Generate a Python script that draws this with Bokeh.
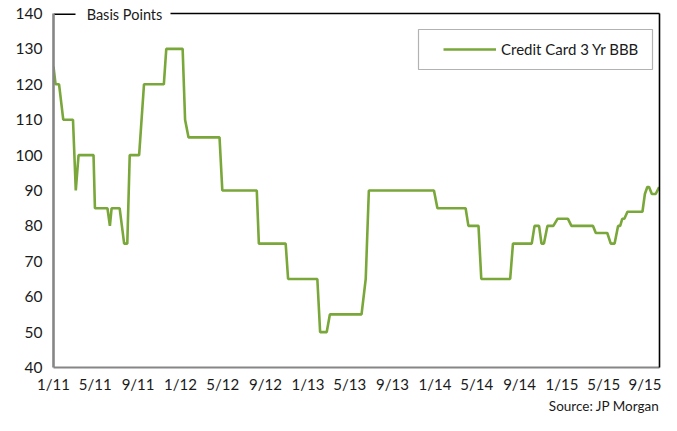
import pandas as pd
from bokeh.plotting import figure
from bokeh.models import (Range1d, FixedTicker, LinearAxis, BoxAnnotation, Title)
from bokeh.embed import file_html
from bokeh.resources import INLINE

# ---- data ----
dates = ["2011-01-01", "2011-01-07", "2011-01-17", "2011-01-29", "2011-02-26", "2011-03-06",
         "2011-03-14", "2011-04-26", "2011-04-30", "2011-06-05", "2011-06-12", "2011-06-17",
         "2011-07-10", "2011-07-23", "2011-08-01", "2011-08-08", "2011-09-04", "2011-09-18",
         "2011-11-14", "2011-11-21", "2012-01-07", "2012-01-14", "2012-01-24", "2012-04-22",
         "2012-04-30", "2012-08-07", "2012-08-13", "2012-10-29", "2012-11-05", "2013-01-28",
         "2013-02-05", "2013-02-24", "2013-03-05", "2013-06-04", "2013-06-16", "2013-06-25",
         "2013-12-29", "2014-01-08", "2014-03-30", "2014-04-07", "2014-05-06", "2014-05-14",
         "2014-08-05", "2014-08-13", "2014-10-06", "2014-10-14", "2014-10-27", "2014-11-03",
         "2014-11-10", "2014-11-20", "2014-12-07", "2014-12-19", "2015-01-18", "2015-01-28",
         "2015-03-31", "2015-04-08", "2015-05-11", "2015-05-21", "2015-06-01", "2015-06-11",
         "2015-06-17", "2015-06-23", "2015-06-29", "2015-07-08", "2015-08-20", "2015-08-27",
         "2015-09-03", "2015-09-08", "2015-09-16", "2015-09-27", "2015-10-07"]
spread_bp = [125, 120, 120, 110, 110, 90,
             100, 100, 85, 85, 80, 85,
             85, 75, 75, 100, 100, 120,
             120, 130, 130, 110, 105, 105,
             90, 90, 75, 75, 65, 65,
             50, 50, 55, 55, 65, 90,
             90, 85, 85, 80, 80, 65,
             65, 75, 75, 80, 80, 75,
             75, 80, 80, 82, 82, 80,
             80, 78, 78, 75, 75, 80,
             80, 82, 82, 84, 84, 89,
             91, 91, 89, 89, 91]
tick_dates = ["2011-01-01", "2011-05-01", "2011-09-01", "2012-01-01", "2012-05-01",
              "2012-09-01", "2013-01-01", "2013-05-01", "2013-09-01", "2014-01-01",
              "2014-05-01", "2014-09-01", "2015-01-01", "2015-05-01", "2015-09-01"]
tick_labels = ["1/11", "5/11", "9/11", "1/12", "5/12", "9/12", "1/13", "5/13", "9/13",
               "1/14", "5/14", "9/14", "1/15", "5/15", "9/15"]
y_ticks = [40, 50, 60, 70, 80, 90, 100, 110, 120, 130, 140]
series_name = "Credit Card 3 Yr BBB"
y_title = "Basis Points"
source_note = "Source: JP Morgan"

FONT = "Lato"
TXT = "#1a1a1a"
GREEN = "#79A73A"

x = pd.to_datetime(dates)
tick_ms = [int(pd.Timestamp(d).value // 10**6) for d in tick_dates]
x_start, x_end = pd.Timestamp("2011-01-01"), pd.Timestamp("2015-10-08")

W, H = 661, 415
L, R, T, FB = 53, 659, 13, 367          # frame edges in canvas px


def ms(ts):
    return int(pd.Timestamp(ts).value // 10**6)


def px_to_ms(px):                       # frame pixel -> x value (for decorations)
    return ms(x_start) + (ms(x_end) - ms(x_start)) * (px - L) / (R - L)


p = figure(width=W, height=H, x_axis_type="datetime",
           x_range=Range1d(x_start, x_end), y_range=Range1d(40, 140),
           output_backend="svg", toolbar_location=None,
           min_border_left=L, min_border_right=W - R, min_border_top=T,
           min_border_bottom=H - FB)
p.outline_line_color = None
p.grid.visible = False
p.background_fill_color = "white"
p.border_fill_color = "white"

p.line(x, spread_bp, line_color=GREEN, line_width=2.6, legend_label=series_name)

# short piece of the top border left of the title
p.line([px_to_ms(L), px_to_ms(75)], [140, 140], line_color="black", line_width=3.2)

# left axis
ya = p.yaxis[0]
ya.ticker = FixedTicker(ticks=y_ticks)
ya.axis_line_color = "#868686"
ya.axis_line_width = 2.6
ya.major_tick_line_color = None
ya.minor_tick_line_color = None
ya.major_tick_out = 0
ya.minor_tick_out = 0
ya.major_label_standoff = 11
ya.major_label_text_font = FONT
ya.major_label_text_font_size = "15.5px"
ya.major_label_text_color = TXT

# bottom axis
xa = p.xaxis[0]
xa.ticker = FixedTicker(ticks=tick_ms)
xa.major_label_overrides = {t: l for t, l in zip(tick_ms, tick_labels)}
xa.axis_line_color = "#868686"
xa.axis_line_width = 2.2
xa.major_tick_line_color = None
xa.minor_tick_line_color = None
xa.major_tick_out = 0
xa.minor_tick_out = 0
xa.major_label_standoff = 7
xa.major_label_text_font = FONT
xa.major_label_text_font_size = "15px"
xa.major_label_text_color = TXT

# right frame line
p.add_layout(LinearAxis(ticker=FixedTicker(ticks=[]), axis_line_color="black",
                        axis_line_width=1.6, major_tick_line_color=None,
                        minor_tick_line_color=None, major_tick_out=0, major_tick_in=0,
                        minor_tick_out=0, major_label_text_font_size="0px"), "right")

# top frame line with the "Basis Points" caption sitting in a gap
title_tick = px_to_ms(124)
p.add_layout(LinearAxis(ticker=FixedTicker(ticks=[title_tick]),
                        major_label_overrides={title_tick: y_title},
                        bounds=(px_to_ms(170), ms(x_end)),
                        axis_line_color="black", axis_line_width=1.6,
                        major_tick_line_color=None, minor_tick_line_color=None,
                        major_tick_out=0, major_tick_in=0, minor_tick_out=0,
                        major_label_standoff=-9, major_label_text_font=FONT,
                        major_label_text_font_size="14.5px",
                        major_label_text_color=TXT), "above")

# legend box
p.add_layout(BoxAnnotation(left=418, right=652, top=29, bottom=69,
                           left_units="canvas", right_units="canvas",
                           top_units="canvas", bottom_units="canvas",
                           fill_color="white", fill_alpha=1, line_color="black",
                           line_width=1.2, level="underlay"))
lg = p.legend[0]
lg.location = (443 - L, FB - 59)
lg.padding = 0
lg.margin = 0
lg.spacing = 0
lg.border_line_color = None
lg.background_fill_alpha = 0
lg.glyph_width = 53
lg.glyph_height = 20
lg.label_height = 20
lg.label_standoff = 5
lg.label_text_font = FONT
lg.label_text_font_size = "15px"
lg.label_text_color = TXT

# source note
p.add_layout(Title(text=source_note, align="right", text_font=FONT, text_font_size="13.5px",
                   text_font_style="normal", text_color=TXT, standoff=1, offset=0), "below")

open("out.html", "w").write(file_html(p, INLINE))
